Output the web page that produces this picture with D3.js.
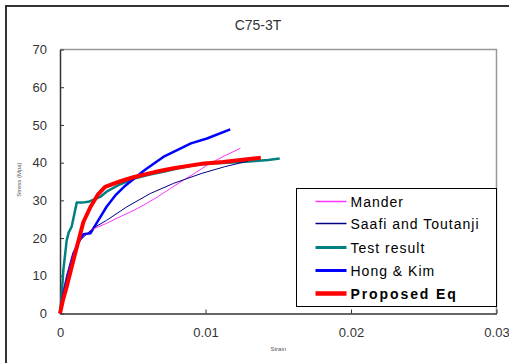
<!DOCTYPE html>
<html>
<head>
<meta charset="utf-8">
<script src="https://cdn.jsdelivr.net/npm/d3@7"></script>
<style>
  body { margin: 0; background: #fff; }
  svg { display: block; font-family: "Liberation Sans", Arial, sans-serif; }
</style>
</head>
<body>
<div id="wrapper"></div>
<script>
// data: [strain, stress]
const mander = [[0, 0], [0.0002, 5], [0.0005, 10], [0.0009, 15.5], [0.0014, 19.5], [0.0019, 21.3],
  [0.0021, 22.1], [0.0032, 23.9], [0.0042, 25.8], [0.0051, 27.4], [0.0059, 29.1], [0.0067, 30.9],
  [0.0076, 33.2], [0.0085, 35.4], [0.0093, 37.3], [0.0101, 39.3], [0.0112, 41.6], [0.0124, 43.8]];
const saafi = [[0, 0], [0.0002, 5], [0.0005, 10], [0.0009, 15.5], [0.0014, 19.5], [0.0019, 21.3],
  [0.0024, 22.9], [0.0032, 24.7], [0.0046, 28.3], [0.0062, 31.8], [0.0078, 34.5], [0.0097, 37.1],
  [0.0113, 38.9], [0.0129, 40.4]];
const testResult = [[0, 0], [0.0001, 4], [0.00023, 11.5], [0.00046, 19.4], [0.0006, 21.5], [0.0008, 23],
  [0.00115, 29.4], [0.0015, 29.4], [0.00195, 29.6], [0.00276, 30.9], [0.0032, 32.3], [0.0041, 34.2],
  [0.0051, 35.8], [0.0061, 36.8], [0.0071, 37.6], [0.0082, 38.6], [0.0092, 39.3], [0.0104, 39.8],
  [0.0115, 40], [0.013, 40.3], [0.0143, 40.7], [0.0151, 41.1]];
const hongKim = [[0, 0], [0.00023, 5.3], [0.0005, 10], [0.00092, 15.9], [0.0014, 19.8], [0.0016, 21],
  [0.0021, 21.3], [0.0026, 24.5], [0.0032, 28.3], [0.0038, 31.3], [0.0044, 33.6], [0.0058, 38],
  [0.0071, 41.5], [0.009, 45.1], [0.0101, 46.4], [0.0117, 48.8]];
const proposed = [[0, 0], [0.0002, 3.5], [0.00046, 7.1], [0.00092, 14.1], [0.0014, 21.2], [0.0016, 24.2],
  [0.0021, 28.3], [0.0026, 31.5], [0.0031, 33.6], [0.0041, 35], [0.0051, 36.2], [0.0065, 37.5],
  [0.0078, 38.5], [0.0099, 39.8], [0.0112, 40.2], [0.0124, 40.7], [0.0138, 41.3]];

const xTicks = [0, 0.01, 0.02, 0.03];
const yTicks = [0, 10, 20, 30, 40, 50, 60, 70];

const series = [
  { name: 'Mander', data: mander, color: '#ff33ff', width: 1, legendWidth: 1.5 },
  { name: 'Saafi and Toutanji', data: saafi, color: '#000080', width: 1, legendWidth: 1.5 },
  { name: 'Test result', data: testResult, color: '#008080', width: 2.5, legendWidth: 3 },
  { name: 'Hong & Kim', data: hongKim, color: '#0000ff', width: 2.5, legendWidth: 3 },
  { name: 'Proposed Eq', data: proposed, color: '#ff0000', width: 4, legendWidth: 4.5, bold: true },
];

const dimensions = {
  width: 509,
  height: 363,
  margin: { top: 49.5, right: 12.5, bottom: 49.5, left: 60 },
};
dimensions.boundedWidth = dimensions.width - dimensions.margin.left - dimensions.margin.right;
dimensions.boundedHeight = dimensions.height - dimensions.margin.top - dimensions.margin.bottom;

const xScale = d3.scaleLinear().domain([0, 0.03]).range([0, dimensions.boundedWidth]);
const yScale = d3.scaleLinear().domain([0, 70]).range([dimensions.boundedHeight, 0]);

const wrapper = d3.select('#wrapper')
  .append('svg')
  .attr('width', dimensions.width)
  .attr('height', dimensions.height);

// outer frame
wrapper.append('rect')
  .attr('x', 6).attr('y', 6)
  .attr('width', 520).attr('height', 400)
  .attr('fill', 'none')
  .attr('stroke', '#333')
  .attr('stroke-width', 2);

wrapper.append('text')
  .attr('x', 258).attr('y', 30)
  .attr('text-anchor', 'middle')
  .attr('fill', '#333')
  .style('font-size', '14px')
  .text('C75-3T');

const bounds = wrapper.append('g')
  .attr('transform', `translate(${dimensions.margin.left}, ${dimensions.margin.top})`);

// plot area border (top/right grey)
bounds.append('path')
  .attr('d', `M0,0H${dimensions.boundedWidth}V${dimensions.boundedHeight}`)
  .attr('fill', 'none')
  .attr('stroke', '#999')
  .attr('stroke-width', 1.5);

const xAxis = d3.axisBottom(xScale).tickValues(xTicks).tickSizeInner(-4).tickSizeOuter(0)
  .tickFormat((d) => (d === 0 ? '0' : d3.format('.2')(d)));
const xAxisG = bounds.append('g')
  .attr('transform', `translate(0, ${dimensions.boundedHeight})`)
  .call(xAxis);
xAxisG.select('.domain').attr('stroke', '#333').attr('stroke-width', 1.5);
xAxisG.selectAll('.tick line').attr('stroke', '#333');
xAxisG.selectAll('.tick text')
  .attr('y', 14)
  .attr('fill', '#333')
  .style('font-size', '13px')
  .style('font-family', '"Liberation Sans", Arial, sans-serif');

const yAxis = d3.axisLeft(yScale).tickValues(yTicks).tickSizeInner(-4).tickSizeOuter(0);
const yAxisG = bounds.append('g').call(yAxis);
yAxisG.select('.domain').attr('stroke', '#333').attr('stroke-width', 1.5);
yAxisG.selectAll('.tick line').attr('stroke', '#333');
yAxisG.selectAll('.tick text')
  .attr('x', -13)
  .attr('fill', '#333')
  .style('font-size', '13px')
  .style('font-family', '"Liberation Sans", Arial, sans-serif');

// axis titles
bounds.append('text')
  .attr('x', xScale(0.015))
  .attr('y', dimensions.boundedHeight + 37)
  .attr('text-anchor', 'middle')
  .attr('fill', '#555')
  .style('font-size', '6px')
  .text('Strain');

bounds.append('text')
  .attr('transform', `translate(-39, ${yScale(35.5)}) rotate(-90)`)
  .attr('text-anchor', 'middle')
  .attr('fill', '#555')
  .style('font-size', '6px')
  .text('Stress (Mpa)');

const lineGenerator = d3.line()
  .x((d) => xScale(d[0]))
  .y((d) => yScale(d[1]));

const clip = bounds.append('clipPath').attr('id', 'clip')
  .append('rect')
  .attr('x', -3).attr('y', 0)
  .attr('width', dimensions.boundedWidth + 3)
  .attr('height', dimensions.boundedHeight);

const drawOrder = [2, 3, 0, 1, 4];
drawOrder.forEach((i) => {
  const s = series[i];
  bounds.append('path')
    .attr('clip-path', 'url(#clip)')
    .attr('d', lineGenerator(s.data))
    .attr('fill', 'none')
    .attr('stroke', s.color)
    .attr('stroke-width', s.width)
    .attr('stroke-linejoin', 'round');
});

// legend
const legend = wrapper.append('g').attr('transform', 'translate(296.5, 188.5)');
legend.append('rect')
  .attr('width', 200)
  .attr('height', 118)
  .attr('fill', '#fff')
  .attr('stroke', '#000')
  .attr('stroke-width', 1);

const legendY = [13, 35, 59, 82, 105];
series.forEach((s, i) => {
  legend.append('line')
    .attr('x1', 19).attr('x2', 50)
    .attr('y1', legendY[i]).attr('y2', legendY[i])
    .attr('stroke', s.color)
    .attr('stroke-width', s.legendWidth);
  legend.append('text')
    .attr('x', 54)
    .attr('y', legendY[i] + 5)
    .attr('fill', '#000')
    .style('font-size', '14px')
    .style('letter-spacing', s.bold ? '1.9px' : '1px')
    .style('font-weight', s.bold ? 'bold' : 'normal')
    .text(s.name);
});
</script>
</body>
</html>
